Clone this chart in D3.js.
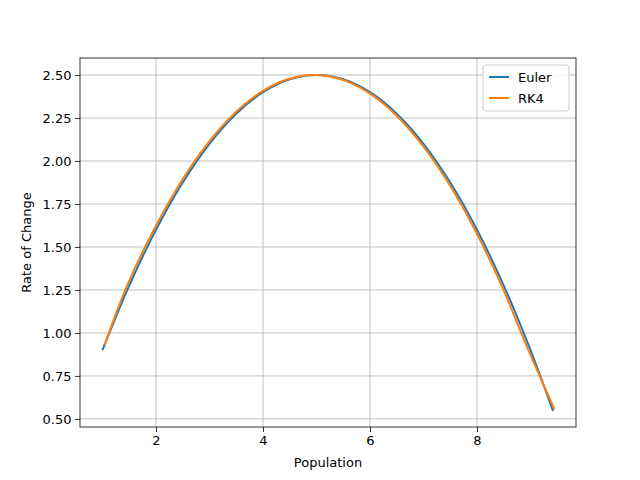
<!DOCTYPE html>
<html><head><meta charset="utf-8">
<script src="https://cdn.jsdelivr.net/npm/d3@7"></script>
<style>body{margin:0;background:#fff}text{font-family:"DejaVu Sans",sans-serif}</style>
</head><body><svg width="640" height="480"></svg>
<script>
// values
var eulerPop  = [1.0, 1.5, 2, 2.5, 3, 3.5, 4, 4.5, 5, 5.5, 6, 6.5, 7, 7.5, 8, 8.5, 9, 9.42];
var eulerRate = [0.9, 1.275, 1.6, 1.875, 2.1, 2.275, 2.4, 2.475, 2.5, 2.475, 2.4, 2.275, 2.1, 1.875, 1.6, 1.275, 0.9, 0.546];
var rk4Pop  = [1.04, 1.46, 1.96, 2.46, 2.96, 3.46, 3.96, 4.46, 4.96, 5.46, 5.96, 6.46, 6.96, 7.46, 7.96, 8.46, 8.96, 9.45];
var rk4Rate = [0.93, 1.275, 1.6, 1.875, 2.1, 2.275, 2.4, 2.475, 2.5, 2.475, 2.4, 2.275, 2.1, 1.875, 1.6, 1.275, 0.9, 0.555];
var xTicks = [2, 4, 6, 8];
var yTicks = [0.5, 0.75, 1.0, 1.25, 1.5, 1.75, 2.0, 2.25, 2.5];

var L = 80, R = 576, T = 58, B = 427;
var FS = 13;
var svg = d3.select("svg");
var x = d3.scaleLinear().domain([0.58, 9.85]).range([L, R]);
var y = d3.scaleLinear().domain([0.453, 2.599]).range([B, T]);

// grid
svg.selectAll(".gx").data(xTicks).enter().append("line")
  .attr("x1", d => x(d)).attr("x2", d => x(d)).attr("y1", T).attr("y2", B)
  .attr("stroke", "#b0b0b0").attr("stroke-width", 0.8);
svg.selectAll(".gy").data(yTicks).enter().append("line")
  .attr("y1", d => y(d)).attr("y2", d => y(d)).attr("x1", L).attr("x2", R)
  .attr("stroke", "#b0b0b0").attr("stroke-width", 0.8);

var line = d3.line().x(d => x(d[0])).y(d => y(d[1])).curve(d3.curveCatmullRom);
svg.append("path").datum(d3.zip(eulerPop, eulerRate)).attr("d", line)
  .attr("fill", "none").attr("stroke", "#1f77b4").attr("stroke-width", 2);
svg.append("path").datum(d3.zip(rk4Pop, rk4Rate)).attr("d", line)
  .attr("fill", "none").attr("stroke", "#ff7f0e").attr("stroke-width", 2);

// axes
var gx = svg.append("g").attr("transform", "translate(0," + B + ")")
  .call(d3.axisBottom(x).tickValues(xTicks).tickSize(5).tickPadding(3.5).tickFormat(d3.format("d")));
var gy = svg.append("g").attr("transform", "translate(" + L + ",0)")
  .call(d3.axisLeft(y).tickValues(yTicks).tickSize(5).tickPadding(3.5).tickFormat(d3.format(".2f")));
[gx, gy].forEach(g => {
  g.select(".domain").remove();
  g.selectAll("text").attr("font-size", FS).attr("fill", "#000").attr("font-family", "DejaVu Sans");
  g.selectAll("line").attr("stroke", "#000").attr("stroke-width", 0.8);
});
svg.append("rect").attr("x", L).attr("y", T).attr("width", R - L).attr("height", B - T)
  .attr("fill", "none").attr("stroke", "#000").attr("stroke-width", 0.8);

svg.append("text").attr("x", (L + R) / 2).attr("y", 467).attr("text-anchor", "middle")
  .attr("font-size", FS).text("Population");
svg.append("text").attr("transform", "translate(31," + (T + B) / 2 + ") rotate(-90)")
  .attr("text-anchor", "middle").attr("font-size", FS).text("Rate of Change");

// legend
var lg = svg.append("g").attr("transform", "translate(483,65)");
lg.append("rect").attr("width", 86).attr("height", 46).attr("rx", 3)
  .attr("fill", "#fff").attr("fill-opacity", 0.8).attr("stroke", "#ccc");
[["Euler", "#1f77b4"], ["RK4", "#ff7f0e"]].forEach((d, i) => {
  lg.append("line").attr("x1", 6).attr("x2", 26).attr("y1", 12 + i * 21).attr("y2", 12 + i * 21)
    .attr("stroke", d[1]).attr("stroke-width", 2);
  lg.append("text").attr("x", 35).attr("y", 17 + i * 21).attr("font-size", FS).text(d[0]);
});
</script></body></html>
